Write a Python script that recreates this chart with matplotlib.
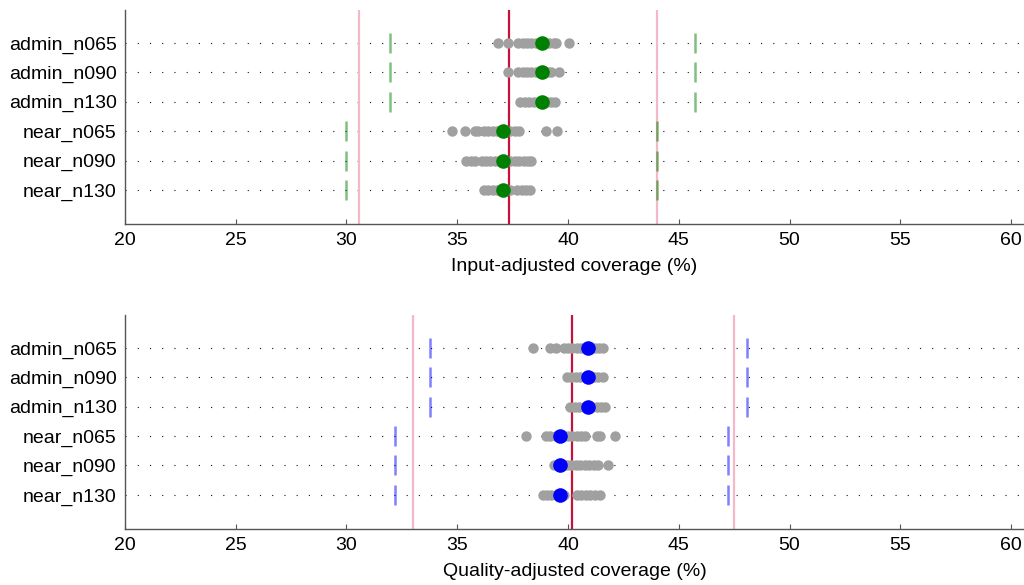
import matplotlib
matplotlib.use('Agg')
import matplotlib.pyplot as plt

plt.rcParams['font.family'] = ['Liberation Sans', 'DejaVu Sans']
plt.rcParams['font.size'] = 14

rows = ['admin_n065', 'admin_n090', 'admin_n130', 'near_n065', 'near_n090', 'near_n130']

# input-adjusted coverage, individual runs per row
input_runs = [
    [36.85, 37.3, 37.75, 37.95, 38.15, 38.35, 38.55, 38.75, 38.95, 39.15, 39.35, 39.45, 40.05],
    [37.27, 37.75, 37.95, 38.15, 38.35, 38.55, 38.75, 38.95, 39.1, 39.25, 39.6],
    [37.85, 38.05, 38.25, 38.45, 38.65, 38.85, 39.05, 39.25, 39.42],
    [34.75, 35.35, 35.8, 35.95, 36.2, 36.4, 36.6, 36.8, 37.2, 37.4, 37.6, 37.8, 39.0, 39.5],
    [35.4, 35.6, 35.8, 36.1, 36.3, 36.5, 36.7, 36.9, 37.2, 37.4, 37.6, 37.8, 38.0, 38.2, 38.35],
    [36.2, 36.4, 36.6, 36.8, 37.0, 37.2, 37.4, 37.7, 37.9, 38.1, 38.3],
]
input_mean = [38.82, 38.82, 38.82, 37.05, 37.05, 37.05]
input_lo = [31.95, 31.95, 31.95, 30.0, 30.0, 30.0]
input_hi = [45.75, 45.75, 45.75, 44.0, 44.0, 44.0]
input_center = 37.32
input_band = [30.57, 44.0]

# quality-adjusted coverage
quality_runs = [
    [38.4, 39.2, 39.45, 39.8, 40.0, 40.2, 40.4, 40.6, 40.8, 41.0, 41.2, 41.4, 41.6],
    [39.95, 40.15, 40.35, 40.55, 40.75, 40.95, 41.15, 41.35, 41.58],
    [40.08, 40.3, 40.5, 40.7, 40.9, 41.1, 41.3, 41.5, 41.66],
    [38.12, 39.0, 39.18, 39.45, 39.8, 40.0, 40.2, 40.4, 40.6, 40.76, 41.31, 41.44, 42.1],
    [39.35, 39.55, 39.75, 39.95, 40.15, 40.35, 40.55, 40.75, 40.95, 41.15, 41.35, 41.8],
    [38.87, 39.05, 39.25, 39.45, 39.8, 40.4, 40.6, 40.8, 41.0, 41.2, 41.44],
]
quality_mean = [40.88, 40.88, 40.88, 39.65, 39.65, 39.65]
quality_lo = [33.78, 33.78, 33.78, 32.2, 32.2, 32.2]
quality_hi = [48.06, 48.06, 48.06, 47.2, 47.2, 47.2]
quality_center = 40.2
quality_band = [33.0, 47.5]


def panel(ax, runs, mean, lo, hi, center, band, dotcolor, tickcolor, xlabel):
    xmin, xmax = 20, 60.58
    ypos = list(range(len(rows)))
    for y in ypos:
        ax.plot([xmin, xmax], [y, y], color='#111111', lw=0.8,
                linestyle=(0, (1, 10)), zorder=1)
    for b in band:
        ax.axvline(b, color='#f4b8c8', lw=1.6, zorder=2)
    ax.axvline(center, color='#c8103c', lw=1.6, zorder=2)
    for y, vals in zip(ypos, runs):
        ax.plot(vals, [y] * len(vals), 'o', color='#a0a0a0', ms=7.5, mec='none', zorder=3)
    ax.plot(lo, ypos, '|', color=tickcolor, alpha=0.5, ms=14, mew=1.8, zorder=3)
    ax.plot(hi, ypos, '|', color=tickcolor, alpha=0.5, ms=14, mew=1.8, zorder=3)
    ax.plot(mean, ypos, 'o', color=dotcolor, ms=10.5, mec='none', zorder=4)

    ax.set_xlim(xmin, xmax)
    ax.set_ylim(6.16, -1.12)
    ax.set_yticks(ypos)
    ax.set_yticklabels(rows)
    ax.set_xticks(range(20, 61, 5))
    ax.tick_params(axis='y', length=0, pad=6)
    ax.tick_params(axis='x', direction='in', length=3.5, color='#555555', pad=6)
    ax.spines['top'].set_visible(False)
    ax.spines['right'].set_visible(False)
    for s in ['left', 'bottom']:
        ax.spines[s].set_color('#555555')
        ax.spines[s].set_linewidth(1.0)
    ax.set_xlabel(xlabel, labelpad=6)


fig = plt.figure(figsize=(10.24, 5.85), dpi=100)
ax1 = fig.add_axes([0.122, 0.617, 0.878, 0.366])
ax2 = fig.add_axes([0.122, 0.0957, 0.878, 0.366])

panel(ax1, input_runs, input_mean, input_lo, input_hi, input_center, input_band,
      'green', 'green', 'Input-adjusted coverage (%)')
panel(ax2, quality_runs, quality_mean, quality_lo, quality_hi, quality_center, quality_band,
      'blue', 'blue', 'Quality-adjusted coverage (%)')

fig.savefig('out.png', dpi=100)
